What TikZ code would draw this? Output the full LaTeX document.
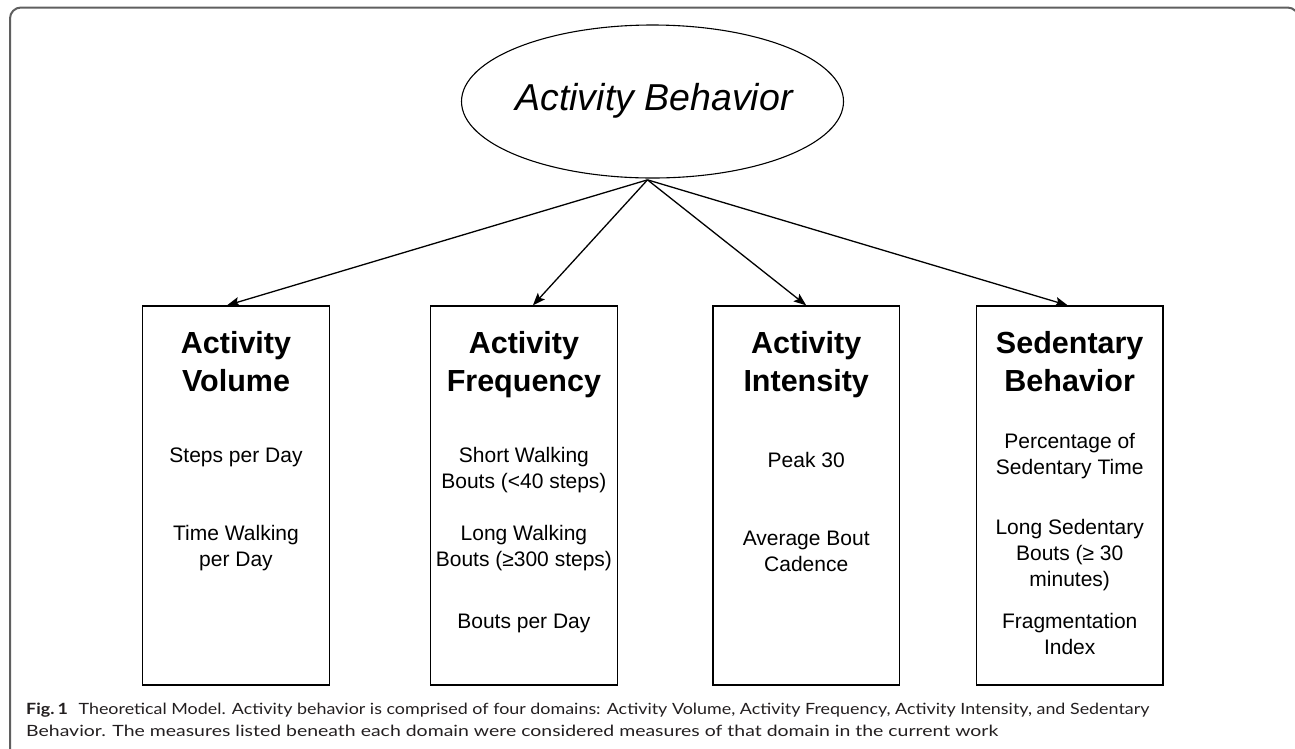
\documentclass[tikz,border=0pt]{standalone}
\usepackage{fontspec}
\setmainfont{Liberation Sans}
\newfontfamily\capfont{Lato}
\usepackage{graphicx}
\usetikzlibrary{shapes.geometric,arrows.meta,calc}
\definecolor{framegray}{RGB}{95,95,95}
\definecolor{captext}{RGB}{35,31,32}
\begin{document}
\begin{tikzpicture}[x=1pt,y=-1pt,
  frameline/.style={draw=framegray,line width=2pt,rounded corners=11pt},
  topnode/.style={draw,ellipse,line width=1.1pt,minimum width=382pt,minimum height=153pt,inner sep=0pt},
  domainbox/.style={draw,line width=1.3pt,minimum width=186.6pt,minimum height=379pt,inner sep=0pt},
  ttl/.style={anchor=base,inner sep=0pt,font=\fontsize{30.5}{37}\selectfont\bfseries},
  itm/.style={anchor=base,inner sep=0pt,font=\fontsize{21}{26}\selectfont},
  link/.style={line width=1.3pt,-{Stealth[length=12.5pt,width=9.5pt,inset=2.5pt]}},
  captionline/.style={anchor=base west,inner sep=0pt,text=captext,font=\capfont\fontsize{15.5}{22}\selectfont}
]
\useasboundingbox (0,0) rectangle (1295,748);
% frame
\draw[frameline] (10,800) -- (10,7.5) -- (1298.5,7.5) -- (1298.5,800);
% top ellipse
\node[topnode] (eb) at (652.5,101.5) {};
\node[anchor=base,inner sep=0pt,font=\fontsize{37.5}{40}\selectfont\itshape] (ebt) at (654,110) {Activity Behavior};
\coordinate (apex) at ($(eb.south)+(-5,1.3)$);
% boxes
\node[domainbox] (b1) at (236,495.5) {};
\node[domainbox] (b2) at (523.9,495.5) {};
\node[domainbox] (b3) at (806.2,495.5) {};
\node[domainbox] (b4) at (1069.7,495.5) {};
% box 1
\node[ttl] (t1a) at (236,353.5) {Activity};
\node[ttl] (t1b) at (236,391.5) {Volume};
\node[itm] (i1a) at (236,462.7) {Steps per Day};
\node[itm] (i1b) at (236,540) {Time Walking};
\node[itm] (i1c) at (236,566) {per Day};
% box 2
\node[ttl] (t2a) at (523.9,353.5) {Activity};
\node[ttl] (t2b) at (523.9,391.5) {Frequency};
\node[itm] (i2a) at (523.9,462.7) {Short Walking};
\node[itm] (i2b) at (523.9,488.5) {Bouts (<40 steps)};
\node[itm] (i2c) at (523.9,540.5) {Long Walking};
\node[itm] (i2d) at (523.9,566.5) {Bouts (≥300 steps)};
\node[itm] (i2e) at (523.9,628.3) {Bouts per Day};
% box 3
\node[ttl] (t3a) at (806.2,353.5) {Activity};
\node[ttl] (t3b) at (806.2,391.5) {Intensity};
\node[itm] (i3a) at (806.2,467.3) {Peak 30};
\node[itm] (i3b) at (806.2,545) {Average Bout};
\node[itm] (i3c) at (806.2,571) {Cadence};
% box 4
\node[ttl] (t4a) at (1069.7,353.5) {Sedentary};
\node[ttl] (t4b) at (1069.7,391.5) {Behavior};
\node[itm] (i4a) at (1069.7,448.3) {Percentage of};
\node[itm] (i4b) at (1069.7,474.3) {Sedentary Time};
\node[itm] (i4c) at (1069.7,534) {Long Sedentary};
\node[itm] (i4d) at (1069.7,560) {Bouts (≥ 30};
\node[itm] (i4e) at (1069.7,586) {minutes)};
\node[itm] (i4f) at (1069.7,628.3) {Fragmentation};
\node[itm] (i4g) at (1069.7,654.3) {Index};
% arrows
\draw[link] (apex) -- ($(b1.north)+(-9,0)$);
\draw[link] (apex) -- ($(b2.north)+(9,0)$);
\draw[link] (apex) -- ($(b3.north)+(0,0)$);
\draw[link] (apex) -- ($(b4.north)+(-2,0)$);
% caption
\node[captionline] (capa) at (26,714) {\resizebox{1123pt}{\height}{\textbf{Fig.\,1}\hspace{0.6em}Theoretical Model. Activity behavior is comprised of four domains: Activity Volume, Activity Frequency, Activity Intensity, and Sedentary}};
\node[captionline] (capb) at (26,736) {\resizebox{972pt}{\height}{Behavior. The measures listed beneath each domain were considered measures of that domain in the current work}};
\end{tikzpicture}
\end{document}
